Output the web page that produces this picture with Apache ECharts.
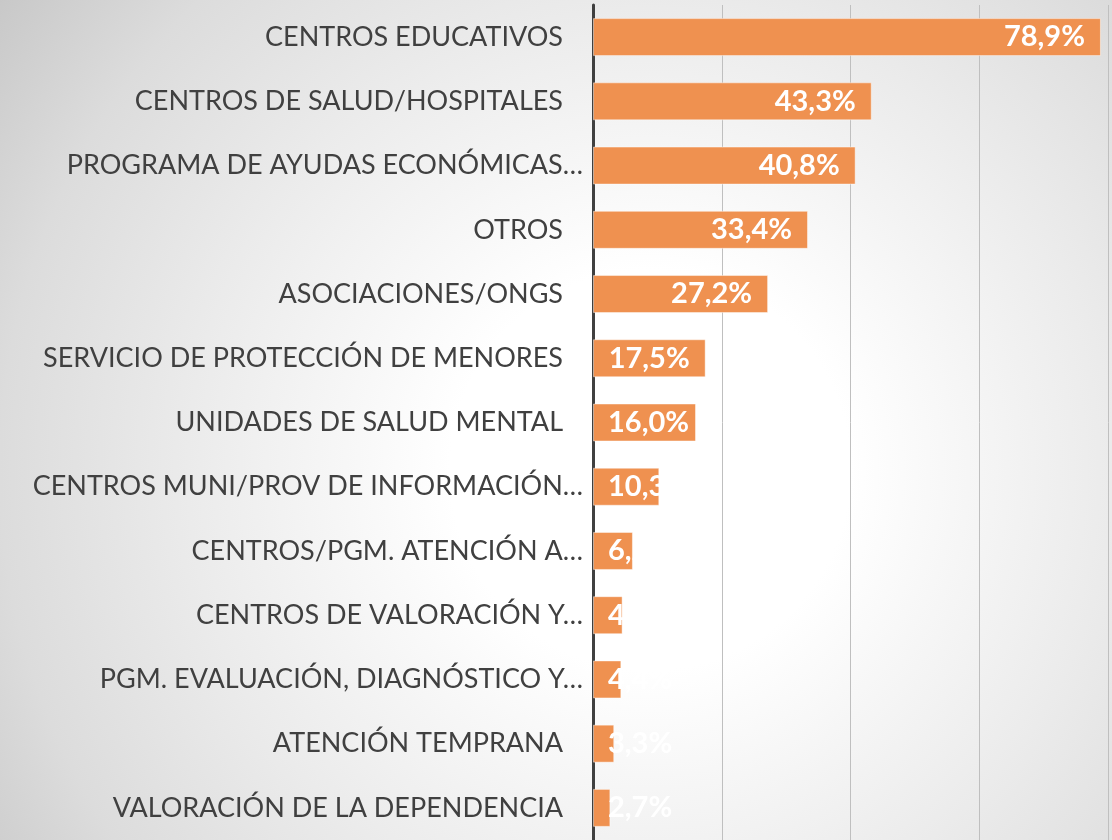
<!DOCTYPE html>
<html>
<head>
<meta charset="utf-8">
<script src="https://cdn.jsdelivr.net/npm/echarts@6.0.0/dist/echarts.min.js"></script>
<style>
  html, body { margin: 0; padding: 0; }
  #chart {
    width: 1112px;
    height: 840px;
    background: radial-gradient(circle at 650px 470px, #ffffff 0px, #ffffff 200px, #ebebeb 462px, #dcdcdc 650px, #c6c6c6 820px);
  }
</style>
</head>
<body>
<div id="chart"></div>
<script>
// categories, top to bottom
const categories = [
    'CENTROS EDUCATIVOS',
    'CENTROS DE SALUD/HOSPITALES',
    'PROGRAMA DE AYUDAS ECONÓMICAS…',
    'OTROS',
    'ASOCIACIONES/ONGS',
    'SERVICIO DE PROTECCIÓN DE MENORES',
    'UNIDADES DE SALUD MENTAL',
    'CENTROS MUNI/PROV DE INFORMACIÓN…',
    'CENTROS/PGM. ATENCIÓN A…',
    'CENTROS DE VALORACIÓN Y…',
    'PGM. EVALUACIÓN, DIAGNÓSTICO Y…',
    'ATENCIÓN TEMPRANA',
    'VALORACIÓN DE LA DEPENDENCIA'
];

// percentages
const values = [78.9, 43.3, 40.8, 33.4, 27.2, 17.5, 16.0, 10.3, 6.2, 4.6, 4.4, 3.3, 2.7];

const xTicks = [0, 20, 40, 60, 80];

const fmt = v => v.toFixed(1).replace('.', ',') + '%';

const chart = echarts.init(document.getElementById('chart'), null, { renderer: 'canvas' });

// labels sit at the bar end when they fit, otherwise at the base
const barData = values.map(v => ({
    value: v,
    label: {
        position: v >= 17 ? 'insideRight' : 'insideLeft',
        distance: v >= 17 ? 16 : 15
    }
}));

chart.setOption({
    animation: false,
    grid: {
        left: 593,
        right: 4,
        top: 5,
        bottom: -5,
        containLabel: false
    },
    xAxis: {
        type: 'value',
        min: xTicks[0],
        max: xTicks[xTicks.length - 1],
        interval: 20,
        axisLabel: { show: false },
        axisLine: { show: false },
        axisTick: { show: false },
        splitLine: {
            show: true,
            lineStyle: { color: '#bfbfbf', width: 1 }
        }
    },
    yAxis: {
        type: 'category',
        data: categories,
        inverse: true,
        axisTick: { show: false },
        axisLine: {
            show: true,
            lineStyle: { color: '#404040', width: 3 }
        },
        axisLabel: {
            color: '#404040',
            fontFamily: 'Lato',
            fontSize: 27,
            margin: 10,
            // truncated names run closer to the axis, like the original
            formatter: s => s.endsWith('…') ? '{t|' + s + '}' : '{t|' + s + '}{gap|}',
            rich: {
                t: { color: '#404040', fontFamily: 'Lato', fontSize: 27 },
                gap: { width: 20 }
            }
        }
    },
    series: [{
        type: 'bar',
        data: barData,
        barWidth: 38,
        itemStyle: {
            color: '#ef9150',
            borderColor: 'rgba(255,255,255,0.45)',
            borderWidth: 1
        },
        label: {
            show: true,
            color: '#ffffff',
            fontFamily: 'Lato',
            fontWeight: 'bold',
            fontSize: 29,
            formatter: p => fmt(p.value)
        }
    }]
});
</script>
</body>
</html>
